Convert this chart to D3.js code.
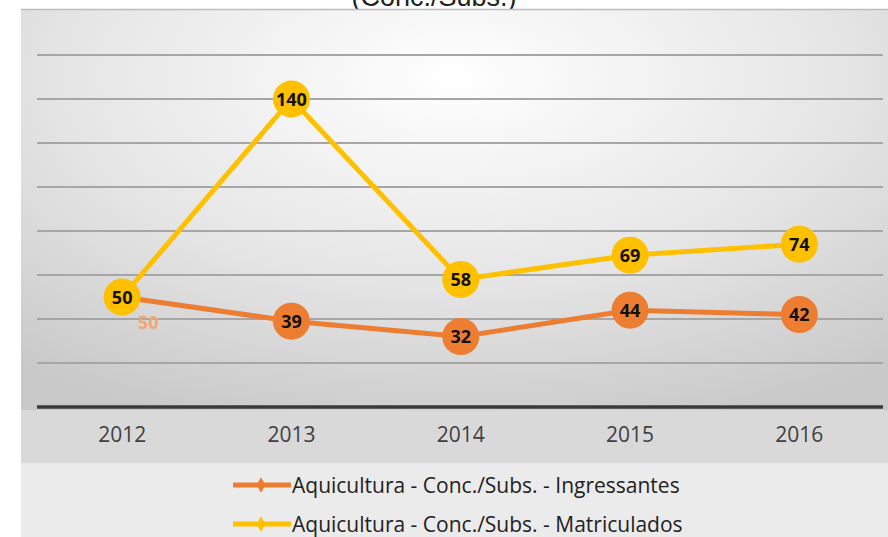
<!DOCTYPE html>
<html><head><meta charset="utf-8">
<script src="https://cdn.jsdelivr.net/npm/d3@7"></script>
<style>body{margin:0;background:#fff}svg{display:block}</style>
</head><body>
<svg id="c" width="888" height="537"></svg>
<script>
const years = ["2012","2013","2014","2015","2016"];
const ingressantes = [50,39,32,44,42];
const matriculados = [50,140,58,69,74];
const gridTicks = [0,20,40,60,80,100,120,140,160];
const seriesNames = ["Aquicultura - Conc./Subs. - Ingressantes","Aquicultura - Conc./Subs. - Matriculados"];
const colors = ["#ED7D31","#FFC000"];

const svg = d3.select("#c");
const defs = svg.append("defs");
const rg = defs.append("radialGradient").attr("id","bg").attr("cx","0.5").attr("cy","0.15").attr("r","0.8");
rg.append("stop").attr("offset","0").attr("stop-color","#ffffff");
rg.append("stop").attr("offset","0.55").attr("stop-color","#e6e6e6");
rg.append("stop").attr("offset","1").attr("stop-color","#c9c9c9");

// title (clipped at top as in the source)
svg.append("text").attr("x",434).attr("y",6).attr("text-anchor","middle")
  .attr("font-family","Liberation Sans, Arial").attr("font-size",27).attr("fill","#222").text("(Conc./Subs.)");

// frame
svg.append("rect").attr("x",21).attr("y",9).attr("width",867).attr("height",456).attr("fill","url(#bg)");
svg.append("rect").attr("x",21).attr("y",410).attr("width",867).attr("height",53).attr("fill","#d9d9d9");
svg.append("rect").attr("x",21).attr("y",463).attr("width",867).attr("height",74).attr("fill","#ebebeb");
svg.append("line").attr("x1",21).attr("x2",888).attr("y1",9.5).attr("y2",9.5).attr("stroke","#bdbdbd").attr("stroke-width",1.5);

const x = d3.scaleBand().domain(years).range([37.5,884]);
const y = d3.scaleLinear().domain([0,160]).range([407,55]);

svg.append("g").selectAll("line").data(gridTicks.filter(d=>d>0)).join("line")
  .attr("x1",37).attr("x2",883).attr("y1",d=>y(d)).attr("y2",d=>y(d))
  .attr("stroke","#a6a6a6").attr("stroke-width",2);

const xa = svg.append("g").attr("transform","translate(0,407)")
  .call(d3.axisBottom(x).tickSize(0).tickPadding(20));
xa.select(".domain").attr("stroke","#3a3a3a").attr("stroke-width",3.5).attr("d","M37,0H883");
xa.selectAll("text").attr("font-family","Open Sans, Liberation Sans, sans-serif").attr("font-size",21).attr("fill","#404040");

const cx = d => x(d)+x.bandwidth()/2;
const line = d3.line().x((d,i)=>cx(years[i])).y(d=>y(d));

[ingressantes, matriculados].forEach((vals,k)=>{
  svg.append("path").datum(vals).attr("d",line).attr("fill","none")
    .attr("stroke",colors[k]).attr("stroke-width",5);
});
[ingressantes, matriculados].forEach((vals,k)=>{
  const g = svg.append("g");
  vals.forEach((v,i)=>{
    if(k===0 && i===0){
      g.append("circle").attr("cx",cx(years[i])).attr("cy",y(v)).attr("r",17).attr("fill",colors[k]);
      svg.append("text").attr("x",cx(years[i])+26).attr("y",y(v)+32)
        .attr("text-anchor","middle").attr("font-family","Open Sans, Liberation Sans, sans-serif")
        .attr("font-weight","bold").attr("font-size",18).attr("fill","#F2A673").text(v);
      return;
    }
    g.append("circle").attr("cx",cx(years[i])).attr("cy",y(v)).attr("r",18.5).attr("fill",colors[k]);
    g.append("text").attr("x",cx(years[i])).attr("y",y(v)+6.5).attr("text-anchor","middle")
      .attr("font-family","Open Sans, Liberation Sans, sans-serif").attr("font-weight","bold")
      .attr("font-size",18).attr("fill","#111").text(v);
  });
});

// legend
seriesNames.forEach((n,k)=>{
  const ly = 485 + k*39;
  svg.append("line").attr("x1",233).attr("x2",291).attr("y1",ly).attr("y2",ly).attr("stroke",colors[k]).attr("stroke-width",5);
  svg.append("path").attr("d",d3.symbol(d3.symbolDiamond,70)()).attr("transform",`translate(261,${ly})`).attr("fill",colors[k]);
  svg.append("text").attr("x",292).attr("y",ly+7.5).attr("font-family","Open Sans, Liberation Sans, sans-serif")
    .attr("font-size",21).attr("fill","#222").text(n);
});
</script>
</body></html>
